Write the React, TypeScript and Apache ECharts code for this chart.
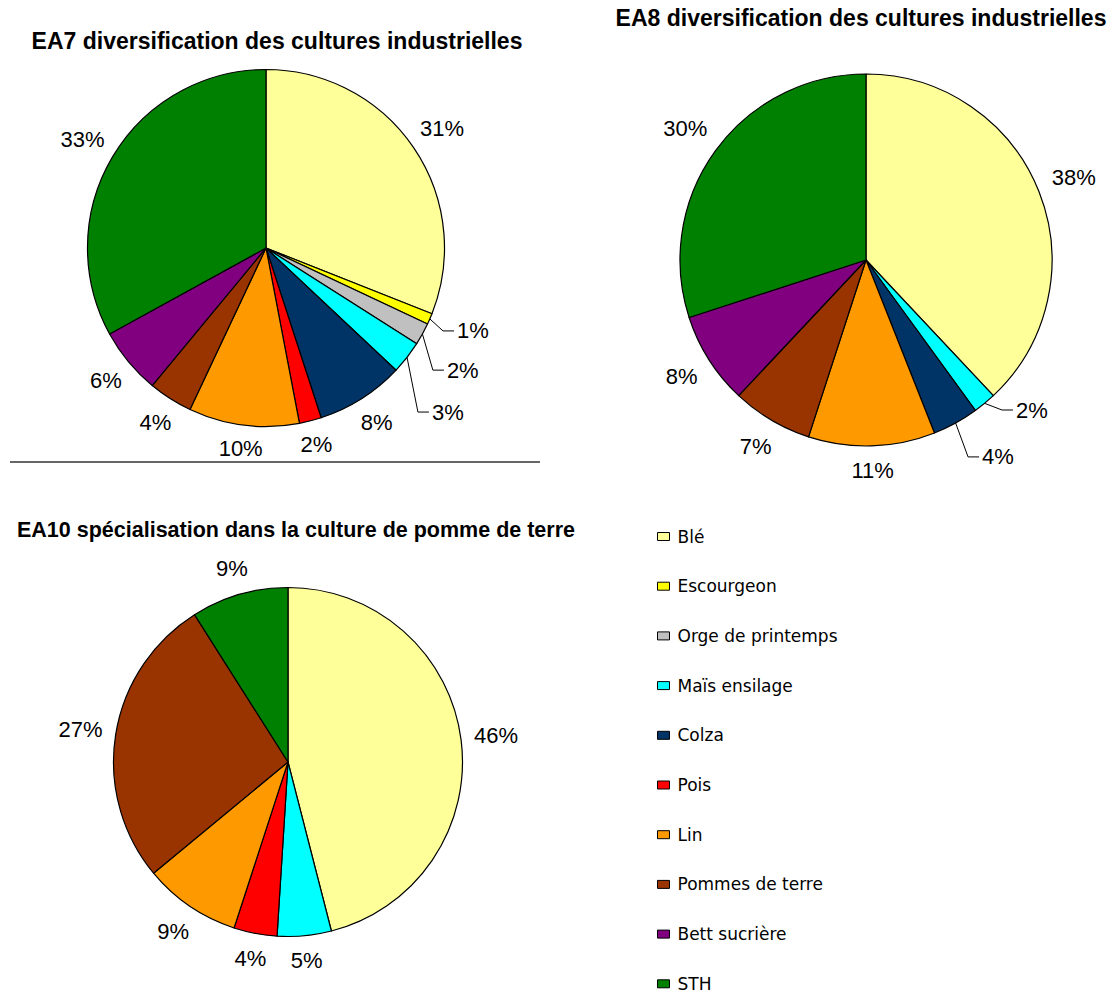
import React, { useEffect, useRef } from 'react';
import * as echarts from 'echarts';

const categories = [
  'Blé',
  'Escourgeon',
  'Orge de printemps',
  'Maïs ensilage',
  'Colza',
  'Pois',
  'Lin',
  'Pommes de terre',
  'Bett sucrière',
  'STH',
];
const categoryColors = [
  '#FFFF99',
  '#FFFF00',
  '#C0C0C0',
  '#00FFFF',
  '#003366',
  '#FF0000',
  '#FF9900',
  '#993300',
  '#800080',
  '#008000',
];
const ea7Values = [31, 1, 2, 3, 8, 2, 10, 4, 6, 33];
const ea8Values = [38, 0, 0, 2, 4, 0, 11, 7, 8, 30];
const ea10Values = [46, 0, 0, 5, 0, 4, 9, 27, 0, 9];

const titles = [
  'EA7 diversification des cultures industrielles',
  'EA8 diversification des cultures industrielles',
  'EA10 spécialisation dans la culture de pomme de terre',
];

type Leader = { angle: number; dist: number };

const FONT = "'Liberation Sans', Arial, sans-serif";

function buildSeries(
  name: string,
  values: number[],
  center: [number, number],
  radius: number,
  leaders: Record<string, Leader>,
  gap: number
) {
  const items = categories
    .map((c, i) => ({ name: c, value: values[i], color: categoryColors[i] }))
    .filter((d) => d.value > 0);
  const total = items.reduce((s, d) => s + d.value, 0);
  const mids: number[] = [];
  let cum = 0;
  items.forEach((d) => {
    mids.push(((cum + d.value / 2) / total) * Math.PI * 2);
    cum += d.value;
  });
  const data = items.map((d) => ({
    name: d.name,
    value: d.value,
    itemStyle: { color: d.color },
    labelLine: { show: !!leaders[d.name] },
  }));
  return {
    type: 'pie',
    name,
    center,
    radius,
    startAngle: 90,
    clockwise: true,
    percentPrecision: 0,
    silent: true,
    data,
    itemStyle: { borderColor: '#000', borderWidth: 1.2 },
    label: {
      show: true,
      position: 'outside',
      formatter: '{d}%',
      fontSize: 22,
      fontFamily: FONT,
      color: '#000',
    },
    labelLine: {
      show: false,
      length: 10,
      length2: 0,
      lineStyle: { color: '#000', width: 1 },
    },
    emphasis: { disabled: true },
    labelLayout: (p: any) => {
      const d = items[p.dataIndex];
      const theta = mids[p.dataIndex];
      const s = Math.sin(theta);
      const c = Math.cos(theta);
      const w = p.labelRect.width;
      const h = p.labelRect.height;
      const leader = d ? leaders[d.name] : undefined;
      if (leader) {
        const a = (leader.angle * Math.PI) / 180;
        const ex = center[0] + leader.dist * Math.sin(a);
        const ey = center[1] - leader.dist * Math.cos(a);
        const sx = center[0] + radius * s;
        const sy = center[1] - radius * c;
        const endX = ex + 11;
        return {
          x: endX + 3,
          y: ey,
          align: 'left',
          verticalAlign: 'middle',
          labelLinePoints: [
            [sx, sy],
            [ex, ey],
            [endX, ey],
          ],
        };
      }
      const D = radius + gap + (w / 2) * Math.abs(s) + (h / 2) * Math.abs(c);
      return {
        x: center[0] + D * s,
        y: center[1] - D * c,
        align: 'center',
        verticalAlign: 'middle',
      };
    },
  };
}

export default function App() {
  const ref = useRef<HTMLDivElement>(null);
  useEffect(() => {
    if (!ref.current) return;
    const chart = echarts.init(ref.current, null, { renderer: 'svg' });
    const titleStyle = (size: number) => ({
      fontSize: size,
      fontWeight: 'bold' as const,
      fontFamily: FONT,
      color: '#000',
    });
    chart.setOption({
      animation: false,
      backgroundColor: '#fff',
      title: [
        { text: titles[0], left: 277, top: 29.5, textAlign: 'center', padding: 0, textStyle: titleStyle(23) },
        { text: titles[1], left: 861, top: 6.5, textAlign: 'center', padding: 0, textStyle: titleStyle(23) },
        { text: titles[2], left: 296, top: 519, textAlign: 'center', padding: 0, textStyle: titleStyle(21.5) },
      ],
      legend: {
        orient: 'vertical',
        left: 657,
        top: 528,
        height: 470,
        padding: 0,
        itemWidth: 12,
        itemHeight: 8,
        itemGap: 32.7,
        icon: 'rect',
        selectedMode: false,
        data: categories,
        itemStyle: { borderColor: '#000', borderWidth: 1 },
        textStyle: {
          fontSize: 17,
          lineHeight: 17,
          fontFamily: "'DejaVu Sans', sans-serif",
          color: '#000',
          padding: [0, 0, 0, 3],
        },
      },
      graphic: [
        {
          type: 'line',
          shape: { x1: 10, y1: 462, x2: 540, y2: 462 },
          style: { stroke: '#333', lineWidth: 1.5 },
          silent: true,
        },
      ],
      series: [
        buildSeries(
          'EA7',
          ea7Values,
          [266, 248],
          178.5,
          {
            Escourgeon: { angle: 115.1, dist: 195.5 },
            'Orge de printemps': { angle: 126.2, dist: 206.8 },
            'Maïs ensilage': { angle: 137.2, dist: 223.6 },
          },
          10
        ),
        buildSeries(
          'EA8',
          ea8Values,
          [866, 260],
          186,
          {
            'Maïs ensilage': { angle: 137.8, dist: 202.5 },
            Colza: { angle: 152.6, dist: 221.8 },
          },
          13
        ),
        buildSeries('EA10', ea10Values, [288, 762], 174.5, {}, 12),
      ],
    });
    return () => chart.dispose();
  }, []);
  return (
    <div
      ref={ref}
      style={{ position: 'fixed', left: 0, top: 0, width: 1113, height: 994 }}
    />
  );
}
